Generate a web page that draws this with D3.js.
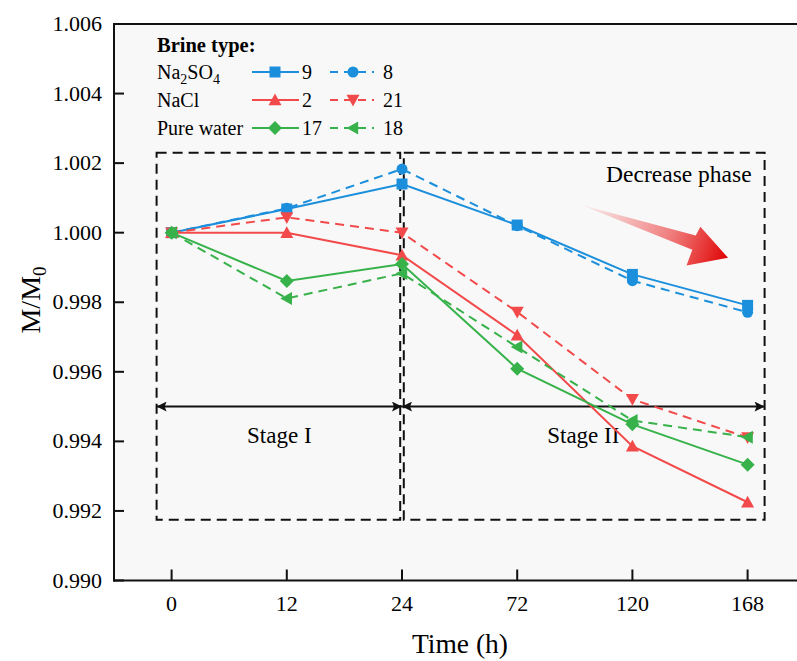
<!DOCTYPE html>
<html lang="en">
<head>
<meta charset="UTF-8">
<title>M/M0 vs time</title>
<script src="https://cdn.jsdelivr.net/npm/d3@7"></script>
<style>
    body { margin: 0; background: #ffffff; }
    svg { font-family: 'Liberation Serif', 'Times New Roman', serif; }
</style>
</head>
<body>
<div id="chart"></div>
<script>
    // ---- data ----
    const times = ["0", "12", "24", "72", "120", "168"];
    const yTicks = [0.990, 0.992, 0.994, 0.996, 0.998, 1.000, 1.002, 1.004, 1.006];

    const na2so4_9  = [1.0000, 1.00068, 1.00140, 1.00022, 0.99880, 0.99791];
    const na2so4_8  = [1.0000, 1.00070, 1.00183, 1.00020, 0.99862, 0.99771];
    const nacl_2    = [1.0000, 1.00000, 0.99935, 0.99705, 0.99386, 0.99225];
    const nacl_21   = [1.0000, 1.00044, 1.00000, 0.99772, 0.99521, 0.99411];
    const water_17  = [1.0000, 0.99861, 0.99910, 0.99609, 0.99449, 0.99333];
    const water_18  = [1.0000, 0.99811, 0.99883, 0.99671, 0.99460, 0.99412];

    const blue = "#1b8fdc", red = "#f24a4a", green = "#37b24a";

    // drawing order: blue, red, green (green ends on top)
    const series = [
        { name: "8",  values: na2so4_8,  color: blue,  dashed: true,  symbol: "circle" },
        { name: "9",  values: na2so4_9,  color: blue,  dashed: false, symbol: "square" },
        { name: "21", values: nacl_21,   color: red,   dashed: true,  symbol: "down" },
        { name: "2",  values: nacl_2,    color: red,   dashed: false, symbol: "up" },
        { name: "18", values: water_18,  color: green, dashed: true,  symbol: "left" },
        { name: "17", values: water_17,  color: green, dashed: false, symbol: "diamond" }
    ];

    const legendRows = [
        { label: ["Na", "2", "SO", "4"], solid: "9", dash: "8" },
        { label: ["NaCl"], solid: "2", dash: "21" },
        { label: ["Pure water"], solid: "17", dash: "18" }
    ];

    // ---- layout ----
    const W = 797, H = 661;
    const plotLeft = 114, plotTop = 24, plotBottom = 580.5;

    const svg = d3.select("#chart").append("svg").attr("width", W).attr("height", H);

    const x = d3.scalePoint().domain(times).range([plotLeft, plotLeft + 6 * 115.2]).padding(0.5);
    const xi = d3.scaleLinear().domain([0, 5]).range([x("0"), x("168")]); // fractional positions for annotations
    const y = d3.scaleLinear().domain([0.990, 1.006]).range([plotBottom, plotTop]);

    // plot background
    svg.append("rect").attr("x", plotLeft).attr("y", plotTop)
        .attr("width", W - plotLeft).attr("height", plotBottom - plotTop).attr("fill", "#f8f8f8");

    // symbols
    function marker(g, type, color, cx, cy) {
        const s = 6.5;
        if (type === "circle") {
            g.append("circle").attr("cx", cx).attr("cy", cy).attr("r", 5.5).attr("fill", color);
        } else if (type === "square") {
            g.append("rect").attr("x", cx - 5.5).attr("y", cy - 5.5).attr("width", 11).attr("height", 11).attr("fill", color);
        } else {
            let pts;
            if (type === "up") pts = [[0, -s], [s, s * 0.8], [-s, s * 0.8]];
            if (type === "down") pts = [[0, s], [s, -s * 0.8], [-s, -s * 0.8]];
            if (type === "left") pts = [[-s, 0], [s * 0.8, -s], [s * 0.8, s]];
            if (type === "diamond") pts = [[0, -7], [7, 0], [0, 7], [-7, 0]];
            g.append("polygon").attr("points", pts.map(p => [cx + p[0], cy + p[1]].join(",")).join(" "))
                .attr("fill", color);
        }
    }

    // ---- dashed stage boxes and arrows ----
    const boxTop = y(1.0023), boxBot = y(0.99175);
    const s1L = x("0") - 15, s1R = x("24") - 1.8, s2L = x("24") + 1.8, s2R = x("168") + 17;
    const ann = svg.append("g").attr("fill", "none").attr("stroke", "#111").attr("stroke-width", 2);
    ann.append("rect").attr("x", s1L).attr("y", boxTop).attr("width", s1R - s1L).attr("height", boxBot - boxTop)
        .attr("stroke-dasharray", "10,6");
    ann.append("rect").attr("x", s2L).attr("y", boxTop).attr("width", s2R - s2L).attr("height", boxBot - boxTop)
        .attr("stroke-dasharray", "10,6");

    const defs = svg.append("defs");
    defs.append("marker").attr("id", "ah").attr("viewBox", "0 0 10 10").attr("refX", 10).attr("refY", 5)
        .attr("markerWidth", 7.5).attr("markerHeight", 5).attr("markerUnits", "strokeWidth")
        .attr("orient", "auto-start-reverse")
        .append("path").attr("d", "M0,0 L10,5 L0,10 L2,5 Z").attr("fill", "#111");

    const ay = y(0.995);
    svg.append("line").attr("x1", s1L).attr("x2", x("24")).attr("y1", ay).attr("y2", ay)
        .attr("stroke", "#111").attr("stroke-width", 2)
        .attr("marker-start", "url(#ah)").attr("marker-end", "url(#ah)");
    svg.append("line").attr("x1", x("24")).attr("x2", s2R).attr("y1", ay).attr("y2", ay)
        .attr("stroke", "#111").attr("stroke-width", 2)
        .attr("marker-start", "url(#ah)").attr("marker-end", "url(#ah)");

    svg.append("text").attr("x", (s1L + x("24")) / 2).attr("y", y(0.99395)).attr("text-anchor", "middle")
        .attr("font-size", 23).text("Stage I");
    svg.append("text").attr("x", (x("24") + s2R) / 2).attr("y", y(0.99395)).attr("text-anchor", "middle")
        .attr("font-size", 23).text("Stage II");
    svg.append("text").attr("x", x("168") + 4).attr("y", y(1.00146)).attr("text-anchor", "end")
        .attr("font-size", 23.5).text("Decrease phase");

    // gradient arrow
    const grad = defs.append("linearGradient").attr("id", "redgrad")
        .attr("gradientUnits", "userSpaceOnUse")
        .attr("x1", xi(3.55)).attr("y1", y(1.0008)).attr("x2", xi(4.84)).attr("y2", y(0.99930));
    grad.append("stop").attr("offset", 0).attr("stop-color", "#f27a7a").attr("stop-opacity", 0.05);
    grad.append("stop").attr("offset", 0.6).attr("stop-color", "#ef7070").attr("stop-opacity", 0.9);
    grad.append("stop").attr("offset", 1).attr("stop-color", "#e00000");
    const arrowPts = [
        [3.55, 1.00080], [4.55, 0.99992], [4.59, 1.00017], [4.83, 0.99928],
        [4.47, 0.99906], [4.52, 0.99951]
    ];
    svg.append("polygon")
        .attr("points", arrowPts.map(p => [xi(p[0]), y(p[1])].join(",")).join(" "))
        .attr("fill", "url(#redgrad)");

    // ---- data lines ----
    const line = d3.line().x((d, i) => x(times[i])).y(d => y(d));
    series.forEach(s => {
        svg.append("path").datum(s.values).attr("d", line)
            .attr("fill", "none").attr("stroke", s.color).attr("stroke-width", 2)
            .attr("stroke-dasharray", s.dashed ? "9,6" : null);
    });
    series.forEach(s => {
        const g = svg.append("g");
        s.values.forEach((v, i) => marker(g, s.symbol, s.color, x(times[i]), y(v)));
    });

    // ---- axes ----
    const axisG = svg.append("g").attr("stroke", "#111").attr("stroke-width", 2);
    axisG.append("line").attr("x1", plotLeft).attr("x2", plotLeft).attr("y1", plotTop - 1).attr("y2", plotBottom + 1);
    axisG.append("line").attr("x1", plotLeft - 1).attr("x2", W).attr("y1", plotBottom).attr("y2", plotBottom);
    axisG.append("line").attr("x1", plotLeft - 1).attr("x2", W).attr("y1", plotTop).attr("y2", plotTop);

    yTicks.forEach(t => {
        axisG.append("line").attr("x1", plotLeft).attr("x2", plotLeft + 10).attr("y1", y(t)).attr("y2", y(t));
        svg.append("text").attr("x", plotLeft - 12).attr("y", y(t) + 7).attr("text-anchor", "end")
            .attr("font-size", 22).text(d3.format(".3f")(t));
    });
    times.forEach(t => {
        axisG.append("line").attr("x1", x(t)).attr("x2", x(t)).attr("y1", plotBottom).attr("y2", plotBottom - 11);
        svg.append("text").attr("x", x(t)).attr("y", plotBottom + 30).attr("text-anchor", "middle")
            .attr("font-size", 22).text(t);
    });

    svg.append("text").attr("x", 460).attr("y", 653).attr("text-anchor", "middle")
        .attr("font-size", 27.5).text("Time (h)");
    const yl = svg.append("text").attr("transform", "translate(40,300) rotate(-90)")
        .attr("text-anchor", "middle").attr("font-size", 28);
    yl.append("tspan").text("M/M");
    yl.append("tspan").attr("font-size", 19).attr("dy", 6).text("0");

    // ---- legend ----
    const lg = svg.append("g");
    lg.append("text").attr("x", 157).attr("y", 52).attr("font-size", 20.5).attr("font-weight", "bold")
        .text("Brine type:");
    const byName = {};
    series.forEach(s => byName[s.name] = s);
    legendRows.forEach((r, k) => {
        const cy = 72 + k * 28;
        const t = lg.append("text").attr("x", 157).attr("y", cy + 7).attr("font-size", 20);
        if (r.label.length > 1) {
            t.append("tspan").text(r.label[0]);
            t.append("tspan").attr("font-size", 14).attr("dy", 5).text(r.label[1]);
            t.append("tspan").attr("dy", -5).text(r.label[2]);
            t.append("tspan").attr("font-size", 14).attr("dy", 5).text(r.label[3]);
        } else {
            t.text(r.label[0]);
        }
        const a = byName[r.solid], b = byName[r.dash];
        lg.append("line").attr("x1", 252).attr("x2", 299).attr("y1", cy).attr("y2", cy)
            .attr("stroke", a.color).attr("stroke-width", 2);
        marker(lg, a.symbol, a.color, 275, cy);
        lg.append("text").attr("x", 302).attr("y", cy + 7).attr("font-size", 20).text(a.name);
        lg.append("line").attr("x1", 330).attr("x2", 374).attr("y1", cy).attr("y2", cy)
            .attr("stroke", b.color).attr("stroke-width", 2).attr("stroke-dasharray", "8,6");
        marker(lg, b.symbol, b.color, 353, cy);
        lg.append("text").attr("x", 383).attr("y", cy + 7).attr("font-size", 20).text(b.name);
    });
</script>
</body>
</html>
